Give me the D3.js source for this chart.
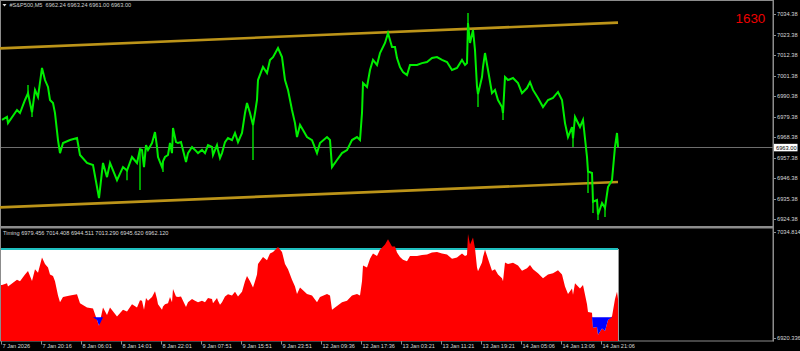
<!DOCTYPE html>
<html>
<head>
<meta charset="utf-8">
<script src="https://cdn.jsdelivr.net/npm/d3@7/dist/d3.min.js"></script>
<style>
  html, body { margin: 0; padding: 0; background: #000; }
  svg { display: block; font-family: "Liberation Sans", Arial, sans-serif; }
</style>
</head>
<body>
<svg id="chart"></svg>
<script>
// time in hours since first bar, and close price
var hrs = [0.2,1.2,1.4,3.2,3.8,4.8,5.4,6.2,6.8,7.4,8.2,8.8,9.4,9.8,10.4,10.8,11.4,11.8,12.4,13.8,
  15.2,15.8,17.2,18.4,19.2,19.6,20.4,21.2,21.8,23.2,24.4,25.2,26.2,27.2,
  27.8,28.2,28.6,29.0,29.4,30.2,30.8,31.2,31.4,32.2,32.4,32.8,33.4,33.8,34.2,34.4,35.0,35.4,36.0,36.4,
  37.0,37.4,38.2,38.8,39.4,40.2,40.8,41.4,42.2,42.4,43.2,43.4,43.8,44.2,44.8,45.4,46.2,46.8,47.4,48.2,
  48.8,49.2,49.8,50.4,50.8,51.2,
  51.4,52.4,53.2,53.8,54.4,55.4,56.2,56.8,57.4,58.2,58.8,59.2,59.8,60.4,61.2,62.2,63.2,63.8,65.2,65.8,
  66.2,67.2,68.2,69.2,70.2,71.2,71.8,72.2,72.4,73.2,73.8,74.4,75.2,75.8,76.8,77.4,78.2,78.8,79.2,79.8,
  80.4,81.2,81.8,83.2,84.2,85.2,86.2,87.2,88.2,89.2,90.2,91.2,92.2,92.8,93.2,93.4,93.8,94.4,94.8,95.2,
  95.4,96.2,96.4,96.8,97.4,98.2,98.8,99.4,100.2,100.4,100.8,101.4,102.4,103.4,104.2,105.2,105.8,106.4,107.4,108.4,
  109.4,110.4,111.4,112.2,112.8,113.4,114.2,114.4,114.8,115.8,116.4,117.2,117.4,118.2,118.4,119.2,119.4,120.2,120.8,121.4,
  122.2,122.8,123.2,123.4];
var close = [6977.7,6979.3,6976.0,6983.0,6981.4,6988.4,6992.0,6981.6,6993.8,6990.0,7005.6,6999.1,6995.4,6988.4,6986.8,6981.4,6966.9,6959.9,6965.3,6966.9,
  6968.0,6958.9,6954.6,6953.5,6941.7,6935.8,6954.6,6947.0,6954.6,6945.4,6952.4,6950.5,6957.8,6954.6,
  6962.0,6961.6,6952.4,6964.2,6961.6,6965.3,6971.2,6963.2,6957.8,6952.4,6955.5,6957.8,6958.9,6965.3,6959.9,6973.4,6965.8,6965.3,6965.8,6961.6,
  6955.1,6959.9,6963.2,6961.6,6959.9,6961.6,6959.9,6964.2,6963.2,6958.9,6964.2,6961.6,6957.3,6959.9,6965.8,6968.0,6966.9,6970.7,6965.8,6970.7,
  6981.4,6986.8,6981.4,6975.0,6981.4,6988.4,
  6999.1,7006.1,7002.9,7009.9,7011.4,7016.3,7011.4,6999.1,6993.8,6983.0,6976.0,6968.5,6975.0,6972.3,6968.5,6966.9,6959.9,6965.3,6968.5,6966.9,
  6952.4,6956.2,6959.9,6961.5,6966.9,6968.5,6966.9,6981.4,6997.5,6995.4,7004.5,7009.9,7007.2,7013.6,7019.0,7024.3,7016.8,7016.8,7010.9,7006.1,
  7003.4,7001.8,7007.2,7007.2,7008.2,7008.8,7010.9,7011.4,7009.9,7008.8,7004.5,7005.6,7009.9,7007.2,7008.2,7029.7,7019.0,7026.0,7015.2,6995.4,
  6991.6,7000.7,7006.1,7013.6,7004.5,6992.1,6993.8,6988.4,6984.6,6981.3,7000.7,6999.1,7000.2,6997.5,6992.1,6994.8,6998.0,6993.8,6989.5,6984.6,
  6988.4,6989.5,6992.7,6988.4,6976.0,6968.5,6973.9,6967.6,6979.3,6973.9,6977.7,6957.8,6950.0,6949.2,6933.8,6934.7,6926.8,6933.1,6930.5,6941.7,
  6945.4,6963.2,6970.7,6963.2];

// wicks that poke out of the close line: [hrs, extreme price]
var wicks = [[5.4, 6996.4], [6.2, 6979.3], [25.2, 6945.4], [27.8, 6940.1], [32.4, 6949.7], [50.4, 6956.2],
  [93.4, 7035.1], [95.4, 6984.6], [100.4, 6977.7], [114.4, 6963.2], [117.4, 6938.5], [118.4, 6927.8],
  [119.4, 6924.0], [120.8, 6925.6]];

// channel trendlines: [startHrs, startPrice, endHrs, endPrice]
var channelUp = [-0.2, 7016.1, 123.4, 7029.9];
var channelDn = [-0.2, 6930.8, 123.4, 6944.4];

var priceTicks = [7034.38, 7023.38, 7012.38, 7001.38, 6990.38, 6979.38, 6968.38, 6957.38, 6946.38, 6935.38, 6924.38];
var timeLabels = ["7 Jan 2026", "7 Jan 20:16", "8 Jan 06:01", "8 Jan 14:01", "8 Jan 22:01", "9 Jan 07:51",
  "9 Jan 15:51", "9 Jan 23:51", "12 Jan 09:36", "12 Jan 17:36", "13 Jan 03:21", "13 Jan 11:21",
  "13 Jan 19:21", "14 Jan 05:06", "14 Jan 13:06", "14 Jan 21:06"];
var lastPrice = 6963.00;
var header = "#S&P500,M5  6962.24 6963.24 6961.00 6963.00";
var timingValues = [6979.456, 7014.408, 6944.511, 7013.290, 6945.620, 6962.120];
var timingRange = [6920.336, 7034.814];
var counter = "1630";

var width = 800, height = 351;
var axisX = 773, lowTop = 229, lowBot = 341;

var svg = d3.select("#chart").attr("width", width).attr("height", height);

var x = d3.scaleLinear().domain([0, 8]).range([1, 41]);
var y = d3.scaleLinear().domain([6924.38, 7034.38]).range([219.3, 14.3]);
var yL = d3.scaleLinear().domain(timingRange).range([lowBot, lowTop]);

var data = hrs.map((h, i) => ({ h: h, p: close[i] }));

// ---- frames
var grey = "#8c8c8c";
svg.append("rect").attr("x", 0.5).attr("y", 0.5).attr("width", axisX - 0.5).attr("height", 226)
  .attr("fill", "none").attr("stroke", grey);
svg.append("rect").attr("x", 0).attr("y", 226).attr("width", axisX + 1).attr("height", 2).attr("fill", grey);
svg.append("rect").attr("x", 0.5).attr("y", 228).attr("width", axisX - 0.5).attr("height", lowBot - 228)
  .attr("fill", "none").attr("stroke", grey);

// ---- main panel
svg.append("line")
  .attr("x1", 1).attr("x2", axisX).attr("y1", Math.round(y(lastPrice)) + 0.5).attr("y2", Math.round(y(lastPrice)) + 0.5)
  .attr("stroke", "#6e6e6e").attr("stroke-width", 1);

[channelUp, channelDn].forEach(function(c) {
  svg.append("line")
    .attr("x1", x(c[0])).attr("y1", y(c[1]))
    .attr("x2", x(c[2])).attr("y2", y(c[3]))
    .attr("stroke", "#bc9419").attr("stroke-width", 2.6);
});

var closeAt = new Map(data.map(d => [d.h, d.p]));
svg.append("g").selectAll("line").data(wicks).enter().append("line")
  .attr("x1", d => x(d[0])).attr("x2", d => x(d[0]))
  .attr("y1", d => y(closeAt.get(d[0]))).attr("y2", d => y(d[1]))
  .attr("stroke", "#00e600").attr("stroke-width", 1.4);

svg.append("path")
  .datum(data)
  .attr("d", d3.line().x(d => x(d.h)).y(d => y(d.p)))
  .attr("fill", "none")
  .attr("stroke", "#00ee00")
  .attr("stroke-width", 2)
  .attr("stroke-linejoin", "miter");

// header
svg.append("path").attr("d", "M2.5,4 L6.5,4 L4.5,6.5 Z").attr("fill", "#e0e0e0");
svg.append("text").attr("x", 9.5).attr("y", 7.4).text(header)
  .attr("fill", "#d0d0d0").style("font-size", "5.6px").style("white-space", "pre");

svg.append("text").attr("x", 735.5).attr("y", 22.5).text(counter)
  .attr("fill", "#ee0000").style("font-size", "13.4px");

// price axis
var pt = svg.append("g");
pt.selectAll("line").data(priceTicks).enter().append("line")
  .attr("x1", axisX).attr("x2", axisX + 3)
  .attr("y1", d => Math.round(y(d)) + 0.5).attr("y2", d => Math.round(y(d)) + 0.5)
  .attr("stroke", grey);
pt.selectAll("text").data(priceTicks).enter().append("text")
  .attr("x", 777).attr("y", d => y(d) + 2)
  .text(d => d.toFixed(2))
  .attr("fill", "#d8d8d8").style("font-size", "5.7px");

svg.append("rect").attr("x", 773.5).attr("y", y(lastPrice) - 3.5).attr("width", 24).attr("height", 7.5).attr("fill", "#fff");
svg.append("text").attr("x", 776).attr("y", y(lastPrice) + 2.2).text(lastPrice.toFixed(2))
  .attr("fill", "#000").style("font-size", "5.7px");

svg.append("line").attr("x1", axisX + 0.5).attr("x2", axisX + 0.5).attr("y1", 0).attr("y2", lowBot + 0.5).attr("stroke", grey);

// ---- lower panel (Timing)
var xs = x(hrs[0]) - 1, xe = x(hrs[hrs.length - 1]);
var upperLvl = timingValues[1], lowerLvl = timingValues[2];
svg.append("rect").attr("x", xs).attr("y", yL(upperLvl)).attr("width", xe - xs).attr("height", lowBot - yL(upperLvl))
  .attr("fill", "#fff");
svg.append("line").attr("x1", xs).attr("x2", xe).attr("y1", yL(upperLvl)).attr("y2", yL(upperLvl))
  .attr("stroke", "#1fc0c0").attr("stroke-width", 2);

var ldata = [{ h: hrs[0] - 0.2, p: close[0] }].concat(data);
svg.append("path")
  .datum(ldata)
  .attr("d", d3.area().x(d => x(d.h)).y0(lowBot).y1(d => yL(d.p)))
  .attr("fill", "#ff0000");

svg.append("path")
  .datum(ldata)
  .attr("d", d3.area().x(d => x(d.h)).y0(yL(lowerLvl)).y1(d => yL(Math.min(d.p, lowerLvl))))
  .attr("fill", "#0000ff");

svg.append("line").attr("x1", xe + 0.5).attr("x2", xe + 0.5).attr("y1", yL(upperLvl)).attr("y2", lowBot)
  .attr("stroke", "#9a9a9a").attr("stroke-width", 1);

svg.append("text").attr("x", 3).attr("y", 235.3)
  .text("Timing " + timingValues.map(v => v.toFixed(3)).join(" "))
  .attr("fill", "#d8d8d8").style("font-size", "5.6px");

timingRange.slice().reverse().forEach(function(v, i) {
  var ty = i === 0 ? 231.8 : 337.8;
  svg.append("line").attr("x1", axisX).attr("x2", axisX + 3).attr("y1", Math.round(ty) + 0.5).attr("y2", Math.round(ty) + 0.5).attr("stroke", grey);
  svg.append("text").attr("x", 777).attr("y", ty + 2).text(v.toFixed(3))
    .attr("fill", "#d8d8d8").style("font-size", "5.7px");
});

// ---- time axis
var tt = svg.append("g");
tt.selectAll("line").data(timeLabels).enter().append("line")
  .attr("x1", (d, i) => x(i * 8) + 0.5).attr("x2", (d, i) => x(i * 8) + 0.5)
  .attr("y1", lowBot).attr("y2", lowBot + 3.5)
  .attr("stroke", grey);
tt.selectAll("text").data(timeLabels).enter().append("text")
  .attr("x", (d, i) => x(i * 8) + 1.5).attr("y", 347.8)
  .text(d => d)
  .attr("fill", "#d8d8d8").style("font-size", "5.6px");
</script>
</body>
</html>
